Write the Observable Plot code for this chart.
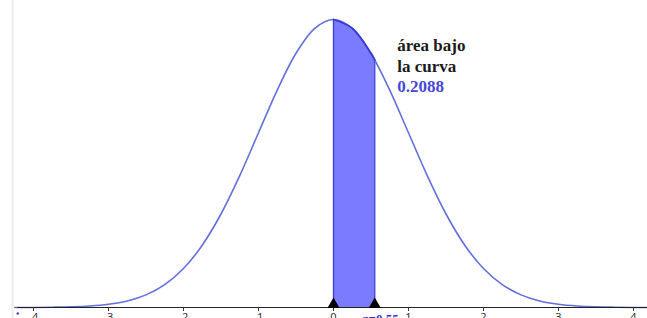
<!DOCTYPE html>
<html>
<head>
<meta charset="utf-8">
<script src="https://cdn.jsdelivr.net/npm/d3@7"></script>
<script src="https://cdn.jsdelivr.net/npm/@observablehq/plot@0.6"></script>
<style>
  html, body { margin: 0; padding: 0; background: #fff; }
  #chart { width: 647px; height: 318px; overflow: hidden; }
</style>
</head>
<body>
<div id="chart"></div>
<script>
// Standard normal density, values read at x = -4.25 ... 4.25
const curveX = [-4.25,-4,-3.75,-3.5,-3.25,-3,-2.75,-2.5,-2.25,-2,-1.75,-1.5,-1.25,-1,-0.75,-0.5,-0.25,0,0.25,0.5,0.55,0.75,1,1.25,1.5,1.75,2,2.25,2.5,2.75,3,3.25,3.5,3.75,4,4.25];
const curveY = [0.0000,0.0001,0.0004,0.0009,0.0020,0.0044,0.0091,0.0175,0.0317,0.0540,0.0863,0.1295,0.1826,0.2420,0.3011,0.3521,0.3867,0.3989,0.3867,0.3521,0.3429,0.3011,0.2420,0.1826,0.1295,0.0863,0.0540,0.0317,0.0175,0.0091,0.0044,0.0020,0.0009,0.0004,0.0001,0.0000];
const zLow = 0;
const zHigh = 0.55;
const areaLabel = ["área bajo", "la curva"];
const areaValue = "0.2088";
const zLabel = "z=0.55";
const tickValues = [-4,-3,-2,-1,0,1,2,3,4];

const curve = curveX.map((x, i) => ({x, y: curveY[i]}));
const shaded = curve.filter(d => d.x >= zLow && d.x <= zHigh);
const serif = "Liberation Serif";

const chart = Plot.plot({
  width: 647,
  height: 318,
  marginLeft: 33,
  marginRight: 14,
  marginTop: 19,
  marginBottom: 11,
  x: {domain: [-4, 4], label: null},
  y: {domain: [0, 0.3989], axis: null},
  style: {background: "#fff", overflow: "visible"},
  marks: [
    Plot.ruleX([-4.28], {stroke: "#ececec", strokeWidth: 2, y1: -0.02, y2: 0.43}),
    Plot.areaY(shaded, {x: "x", y: "y", fill: "#7b7bff", curve: "catmull-rom"}),
    Plot.ruleX([zLow, zHigh], {x: d => d, y1: 0, y2: d => shaded.find(s => s.x === d).y, stroke: "#3a3ad0", strokeWidth: 1.3}),
    Plot.line(curve, {x: "x", y: "y", stroke: "#6270dc", strokeWidth: 1.6, curve: "catmull-rom"}),
    Plot.line(shaded, {x: "x", y: "y", stroke: "#3a3ad0", strokeWidth: 1.8, curve: "catmull-rom"}),
    Plot.ruleY([0], {x1: -4.21, x2: 4.3, stroke: "#222", strokeWidth: 1.2}),
    Plot.axisX({ticks: tickValues, tickSize: 4, tickPadding: 2, fontSize: 11, label: null, tickFormat: d => String(d), fill: "#333", stroke: "#333"}),
    Plot.dot([zLow, zHigh], {x: d => d, y: 0, symbol: "triangle", r: 4.5, fill: "#000", stroke: "none", dy: -3}),
    Plot.text([zLabel], {x: 0.39, y: 0, text: d => d, dy: 6, lineAnchor: "top", textAnchor: "start", fill: "#3a3ad0", fontWeight: "bold", fontSize: 13, fontFamily: serif}),
    Plot.dot([-4.21], {x: d => d, y: 0, r: 1.2, fill: "#3a3ad0", stroke: "none", dy: 6}),
    Plot.text(areaLabel, {x: 0.85, y: (d, i) => [0.3546, 0.3255][i], text: d => d, textAnchor: "start", lineAnchor: "bottom", fill: "#1a1a1a", fontWeight: "bold", fontSize: 17, fontFamily: serif}),
    Plot.text([areaValue], {x: 0.85, y: 0.2978, text: d => d, textAnchor: "start", lineAnchor: "bottom", fill: "#4646d8", fontWeight: "bold", fontSize: 17, fontFamily: serif})
  ]
});
document.getElementById("chart").appendChild(chart);
</script>
</body>
</html>
